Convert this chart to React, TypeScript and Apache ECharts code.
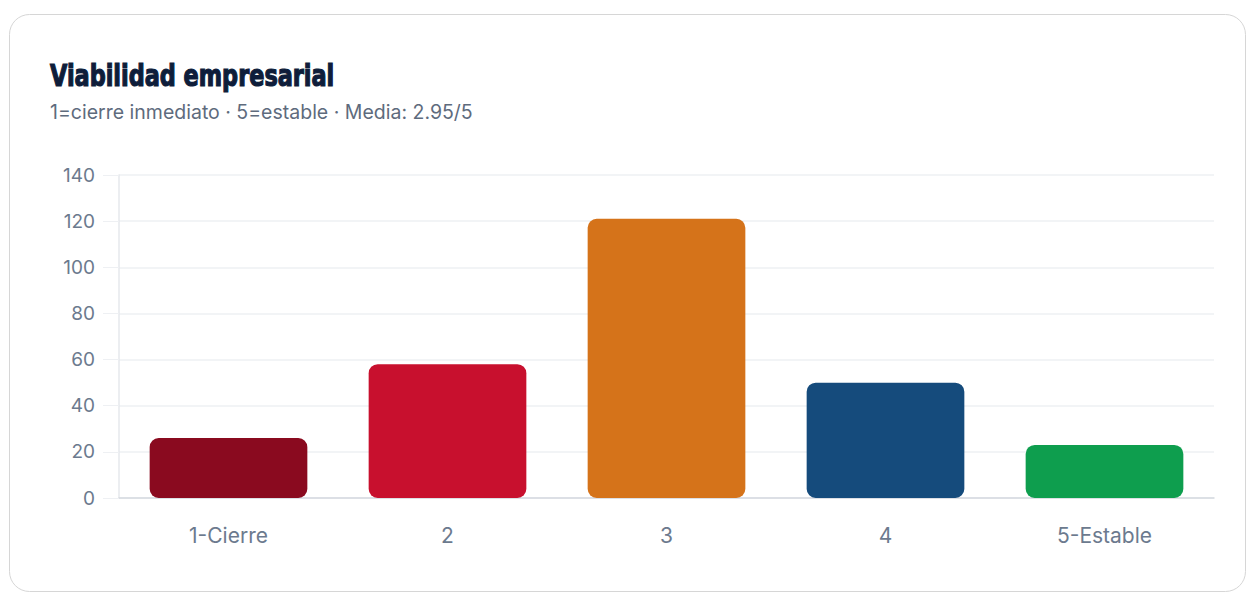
import React, { useEffect, useRef } from "react";
import * as echarts from "echarts";

const categories = ["1-Cierre", "2", "3", "4", "5-Estable"];
const counts = [26, 58, 121, 50, 23];
const barColors = ["#8A0A1F", "#C8102E", "#D5731A", "#154B7C", "#0E9E4E"];
const yTicks = { min: 0, max: 140, interval: 20 };
const titleText = "Viabilidad empresarial";
const subtitleText = "1=cierre inmediato · 5=estable · Media: 2.95/5";

export default function App() {
  const ref = useRef<HTMLDivElement>(null);
  useEffect(() => {
    if (!ref.current) return;
    const chart = echarts.init(ref.current, undefined, { renderer: "svg" });
    chart.setOption({
      animation: false,
      backgroundColor: "#ffffff",
      graphic: [
        {
          type: "rect",
          z: -10,
          silent: true,
          shape: { x: 9.5, y: 14.5, width: 1236, height: 577, r: 20 },
          style: { fill: "#ffffff", stroke: "#D6D6D6", lineWidth: 1 },
        },
        {
          type: "text",
          x: 50,
          y: 60,
          scaleX: 0.83,
          silent: true,
          style: {
            text: titleText,
            fontFamily: "'DejaVu Sans Condensed', sans-serif",
            fontWeight: "bold",
            fontSize: 30,
            fill: "#0E1D3A",
            stroke: "#0E1D3A",
            lineWidth: 1.2,
            verticalAlign: "top",
            align: "left",
          },
        },
        {
          type: "text",
          x: 50,
          y: 102,
          silent: true,
          style: {
            text: subtitleText,
            fontFamily: "Inter, sans-serif",
            fontSize: 19.5,
            fill: "#5E6B7D",
            verticalAlign: "top",
            align: "left",
          },
        },
      ],
      grid: { left: 119, right: 35, top: 175, bottom: 95, containLabel: false },
      xAxis: {
        type: "category",
        data: categories,
        axisLine: { show: true, lineStyle: { color: "#D5D9DF", width: 1.5 } },
        axisTick: { show: false },
        axisLabel: {
          margin: 27,
          fontSize: 21,
          fontFamily: "Inter, sans-serif",
          color: "#6C7A8E",
        },
      },
      yAxis: {
        type: "value",
        min: yTicks.min,
        max: yTicks.max,
        interval: yTicks.interval,
        axisLine: { show: true, lineStyle: { color: "#E6E8EC", width: 1.5 } },
        axisTick: { show: true, length: 16, lineStyle: { color: "#EEF0F3" } },
        axisLabel: {
          margin: 24,
          fontSize: 19,
          fontFamily: "Inter, sans-serif",
          color: "#6C7A8E",
        },
        splitLine: { show: true, lineStyle: { color: "#EEF0F3", width: 1.5 } },
      },
      series: [
        {
          type: "bar",
          barWidth: "72%",
          data: counts.map((v, i) => ({
            value: v,
            itemStyle: { color: barColors[i], borderRadius: 9 },
          })),
        },
      ],
    });
    return () => chart.dispose();
  }, []);
  return (
    <div
      ref={ref}
      style={{ position: "absolute", left: 0, top: 0, width: 1249, height: 593 }}
    />
  );
}
